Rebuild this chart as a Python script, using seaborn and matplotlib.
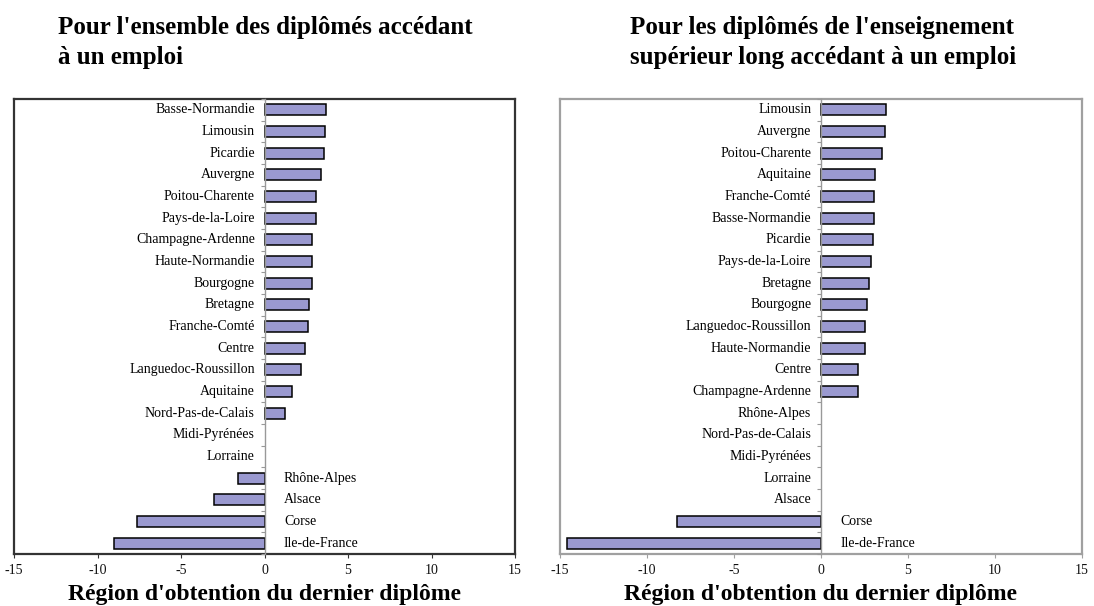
"""Écart par région d'obtention du dernier diplôme: deux panneaux de barres horizontales."""
import matplotlib
matplotlib.use("Agg")
import matplotlib.pyplot as plt
import numpy as np
import pandas as pd
import seaborn as sns

# Panneau gauche : ensemble des diplômés
regions_all = ["Basse-Normandie", "Limousin", "Picardie", "Auvergne", "Poitou-Charente",
               "Pays-de-la-Loire", "Champagne-Ardenne", "Haute-Normandie", "Bourgogne",
               "Bretagne", "Franche-Comté", "Centre", "Languedoc-Roussillon", "Aquitaine",
               "Nord-Pas-de-Calais", "Midi-Pyrénées", "Lorraine", "Rhône-Alpes", "Alsace",
               "Corse", "Ile-de-France"]
values_all = [3.7, 3.65, 3.55, 3.4, 3.1, 3.1, 2.85, 2.85, 2.85, 2.65, 2.6, 2.4, 2.2,
              1.65, 1.2, 0.0, 0.0, -1.6, -3.0, -7.65, -9.0]

# Panneau droit : diplômés du supérieur long
regions_sup = ["Limousin", "Auvergne", "Poitou-Charente", "Aquitaine", "Franche-Comté",
               "Basse-Normandie", "Picardie", "Pays-de-la-Loire", "Bretagne", "Bourgogne",
               "Languedoc-Roussillon", "Haute-Normandie", "Centre", "Champagne-Ardenne",
               "Rhône-Alpes", "Nord-Pas-de-Calais", "Midi-Pyrénées", "Lorraine", "Alsace",
               "Corse", "Ile-de-France"]
values_sup = [3.75, 3.65, 3.5, 3.1, 3.05, 3.05, 3.0, 2.85, 2.75, 2.65, 2.55, 2.55, 2.1,
              2.1, 0.0, 0.0, 0.0, 0.0, 0.0, -8.25, -14.6]

titles_left = ["Pour l'ensemble des diplômés accédant", "à un emploi"]
titles_right = ["Pour les diplômés de l'enseignement", "supérieur long accédant à un emploi"]
xlabel = "Région d'obtention du dernier diplôme"
xticks = [-15, -10, -5, 0, 5, 10, 15]

SERIF = ["Liberation Serif", "DejaVu Serif"]
BAR = "#9a99d0"
W, H = 1094, 606

sns.set_theme(style="white")
plt.rcParams["font.family"] = SERIF
plt.rcParams["text.color"] = "black"

fig = plt.figure(figsize=(W / 100, H / 100), dpi=100)
ax_l = fig.add_axes([14 / W, 1 - 554 / H, 501 / W, 455 / H])
ax_r = fig.add_axes([560 / W, 1 - 554 / H, 522 / W, 455 / H])


def draw_panel(ax, regions, values, frame_color):
    df = pd.DataFrame({"region": regions, "value": values})
    sns.barplot(data=df, x="value", y="region", color=BAR, edgecolor="black",
                linewidth=1.1, width=0.5, saturation=1, ax=ax)
    for p in ax.patches:
        if p.get_width() == 0:
            p.set_visible(False)
    n = len(regions)
    ax.set_xlim(-15, 15)
    ax.set_ylim(n - 0.5, -0.5)
    ax.set_xticks(xticks)
    ax.set_xticklabels([str(t) for t in xticks], fontsize=10, color="#111")
    ax.tick_params(axis="x", length=3, width=0.8, color=frame_color, pad=4,
                   bottom=True, direction="out")
    ax.set_yticks([])
    ax.set_xlabel("")
    ax.set_ylabel("")
    for sp in ax.spines.values():
        sp.set_visible(True)
        sp.set_color(frame_color)
        sp.set_linewidth(1.6)

    # axe vertical au zéro avec petites graduations
    tw = ax.twinx()
    tw.set_ylim(n - 0.5, -0.5)
    for name, sp in tw.spines.items():
        sp.set_visible(name == "left")
    tw.spines["left"].set_position(("data", 0))
    tw.spines["left"].set_color("#999999")
    tw.spines["left"].set_linewidth(1.0)
    tw.yaxis.set_ticks_position("left")
    tw.set_yticks(np.arange(n + 1) - 0.5)
    tw.set_yticklabels([])
    tw.tick_params(axis="y", length=3, color="#999999", width=0.8, direction="out")

    for i, (reg, val) in enumerate(zip(regions, values)):
        if val < 0:
            ax.annotate(reg, (0, i), xytext=(14, 0), textcoords="offset points",
                        ha="left", va="center", fontsize=10)
        else:
            ax.annotate(reg, (0, i), xytext=(-7, 0), textcoords="offset points",
                        ha="right", va="center", fontsize=10)


draw_panel(ax_l, regions_all, values_all, "#333333")
draw_panel(ax_r, regions_sup, values_sup, "#a0a0a0")

for x0, lines in [(58, titles_left), (630, titles_right)]:
    for y0, line in zip([34, 64], lines):
        fig.text(x0 / W, 1 - y0 / H, line, ha="left", va="baseline", fontsize=18,
                 fontweight="bold")

for ax in (ax_l, ax_r):
    bb = ax.get_position()
    fig.text((bb.x0 + bb.x1) / 2, 1 - 600 / H, xlabel, ha="center", va="baseline",
             fontsize=17, fontweight="bold")

fig.savefig("out.png", dpi=100)
